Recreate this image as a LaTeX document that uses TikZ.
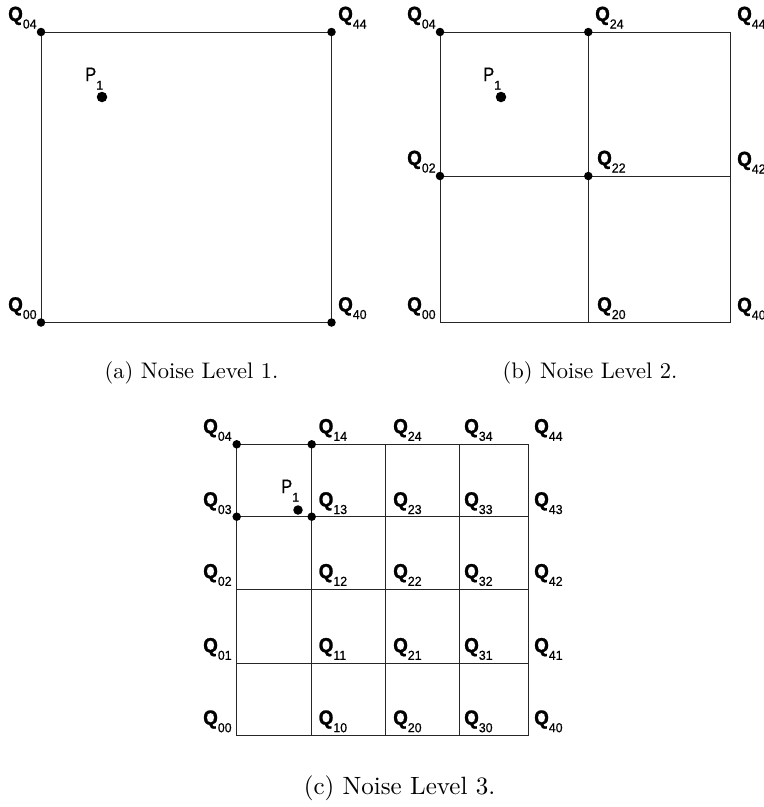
\documentclass[tikz,border=0pt]{standalone}
\usepackage{fontspec}
\usepackage{graphicx}
\newfontfamily\labfont{Liberation Sans}[FakeBold=0.6]
\newfontfamily\labfontq{Liberation Sans Bold}[FakeBold=1.2]
\newcommand{\qlab}[1]{\scalebox{0.92}[1]{\labfontq\fontsize{20.5}{20.5}\selectfont Q}\raisebox{-7.5pt}{\scalebox{0.95}[1]{\labfont\fontsize{13}{13}\selectfont #1}}}
\newcommand{\plab}{\scalebox{0.85}[1]{\labfont\fontsize{19.5}{19.5}\selectfont P}\raisebox{-8.5pt}{\labfont\fontsize{12.5}{12.5}\selectfont 1}}
\newcommand{\captext}[2]{\scalebox{#1}{\fontsize{10}{12}\selectfont #2}}
\tikzset{
  gridline/.style={draw=black!85, line width=0.9pt},
  cdot/.style={circle, fill=black, inner sep=0pt, minimum size=8.5pt},
  pdot/.style={circle, fill=black, inner sep=0pt, minimum size=10.5pt},
  qlabel/.style={anchor=base west, inner sep=0pt},
  captionnode/.style={anchor=center, inner sep=0pt}
}
\begin{document}
\begin{tikzpicture}[x=1pt, y=-1pt]
\useasboundingbox (0,0) rectangle (764,807);

% ---------- panel (a)
\coordinate (a00) at (41,322.5);
\coordinate (a40) at (331.5,322.5);
\coordinate (a04) at (41,32);
\coordinate (a44) at (331.5,32);
\draw[gridline] (a00) -- (a40) -- (a44) -- (a04) -- cycle;
\foreach \n in {a00,a40,a04,a44} \node[cdot] (d\n) at (\n) {};
\node[pdot] (ap1) at (102,97) {};
\node[qlabel] (la04) at (8,21) {\qlab{04}};
\node[qlabel] (la44) at (338,21) {\qlab{44}};
\node[qlabel] (la00) at (8,311.5) {\qlab{00}};
\node[qlabel] (la40) at (338,311.5) {\qlab{40}};
\node[qlabel] (lap1) at (85,81) {\plab};
\node[captionnode] (capa) at (191.5,373) {\captext{2.25}{(a) Noise Level 1.}};

% ---------- panel (b)
\coordinate (b00) at (440,322.7);
\coordinate (b20) at (588.3,322.7);
\coordinate (b40) at (730.7,322.7);
\coordinate (b02) at (440,176);
\coordinate (b22) at (588.3,176);
\coordinate (b42) at (730.7,176);
\coordinate (b04) at (440,32);
\coordinate (b24) at (588.3,32);
\coordinate (b44) at (730.7,32);
\draw[gridline] (b00) -- (b40) -- (b44) -- (b04) -- cycle;
\draw[gridline] (b20) -- (b24);
\draw[gridline] (b02) -- (b42);
\foreach \n in {b04,b24,b02,b22} \node[cdot] (d\n) at (\n) {};
\node[pdot] (bp1) at (501,97) {};
\node[qlabel] (lb04) at (407,21) {\qlab{04}};
\node[qlabel] (lb24) at (595,21) {\qlab{24}};
\node[qlabel] (lb44) at (737,21) {\qlab{44}};
\node[qlabel] (lb02) at (407,165) {\qlab{02}};
\node[qlabel] (lb22) at (597,165) {\qlab{22}};
\node[qlabel] (lb42) at (737,166) {\qlab{42}};
\node[qlabel] (lb00) at (407,311.5) {\qlab{00}};
\node[qlabel] (lb20) at (597,311.5) {\qlab{20}};
\node[qlabel] (lb40) at (737,312) {\qlab{40}};
\node[qlabel] (lbp1) at (483,81) {\plab};
\node[captionnode] (capb) at (590,373) {\captext{2.25}{(b) Noise Level 2.}};

% ---------- panel (c)
\foreach \i/\x in {0/236.7,1/311.7,2/385.7,3/459,4/528.3}
  \foreach \j/\y in {0/735.7,1/663.3,2/589.3,3/516.7,4/444.3}
    \coordinate (c\i\j) at (\x,\y);
\foreach \j in {0,...,4} \draw[gridline] (c0\j) -- (c4\j);
\foreach \i in {0,...,4} \draw[gridline] (c\i0) -- (c\i4);
\foreach \n in {c04,c14,c03,c13} \node[cdot] (d\n) at (\n) {};
\node[pdot, minimum size=9.5pt] (cp1) at (298,510) {};
\node[qlabel] (lcp1) at (281,493) {\plab};
\foreach \i/\x in {0/203,1/318.5,2/393,3/464,4/534}
  \foreach \j/\y in {0/724.7,1/652.3,2/578.3,3/506.5,4/433.3}
    \node[qlabel] (lc\i\j) at (\x,\y) {\qlab{\i\j}};
\node[captionnode] (capc) at (399.5,788) {\captext{2.5}{(c) Noise Level 3.}};
\end{tikzpicture}
\end{document}
